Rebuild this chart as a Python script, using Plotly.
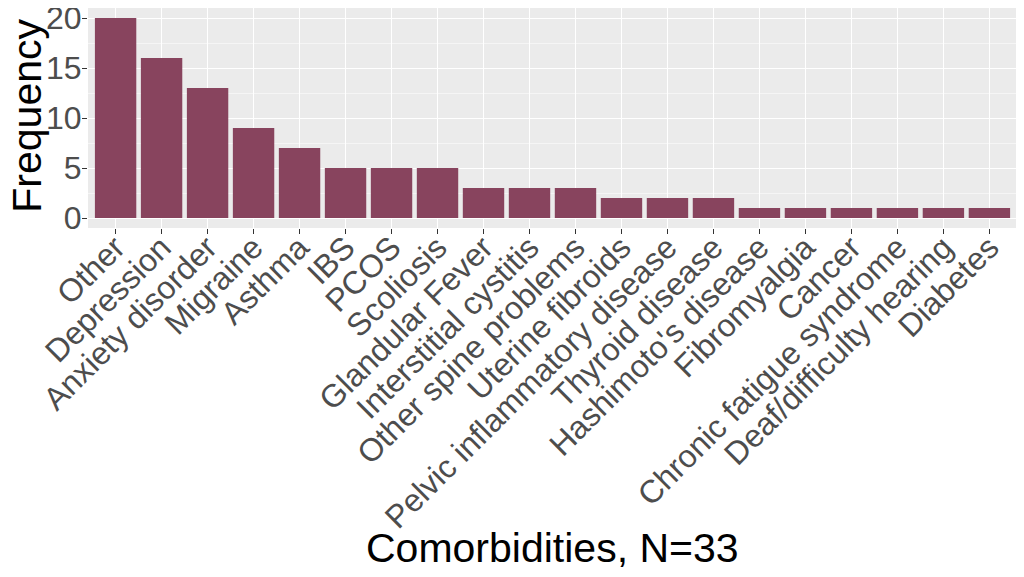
import plotly.graph_objects as go

# ── Data ───────────────────────────────────────────────
conditions = ["Other", "Depression", "Anxiety disorder", "Migraine", "Asthma",
              "IBS", "PCOS", "Scoliosis", "Glandular Fever", "Interstitial cystitis",
              "Other spine problems", "Uterine fibroids", "Pelvic inflammatory disease",
              "Thyroid disease", "Hashimoto's disease", "Fibromyalgia", "Cancer",
              "Chronic fatigue syndrome", "Deaf/difficulty hearing", "Diabetes"]
frequency = [20, 16, 13, 9, 7, 5, 5, 5, 3, 3, 3, 2, 2, 2, 1, 1, 1, 1, 1, 1]

bar_color = "#88445E"

fig = go.Figure(go.Bar(x=conditions, y=frequency, marker_color=bar_color,
                       marker_line_width=0, width=0.9))

# page body adds ~8px offset, so margins are shifted to compensate
fig.update_layout(
    width=1024, height=577,
    margin=dict(l=80, r=15, t=0, b=357),
    paper_bgcolor="white", plot_bgcolor="#EBEBEB",
    font=dict(family="Liberation Sans, Arial, sans-serif", color="#4D4D4D"),
    showlegend=False,
)

fig.update_xaxes(
    range=[-0.6, 19.6], tickangle=-45, tickfont=dict(size=32, color="#4D4D4D"),
    showgrid=True, gridcolor="white", gridwidth=1.3,
    ticks="outside", ticklen=5, tickcolor="#333333", tickwidth=1.2,
    ticklabelstandoff=-18, ticklabeloverflow="allow",
    zeroline=False, automargin=False,
)
fig.update_yaxes(
    range=[-1, 21], tickvals=[0, 5, 10, 15, 20], tickfont=dict(size=32, color="#4D4D4D"),
    showgrid=True, gridcolor="white", gridwidth=1.3,
    minor=dict(tickvals=[2.5, 7.5, 12.5, 17.5], showgrid=True,
               gridcolor="#F5F5F5", gridwidth=0.7),
    ticks="outside", ticklen=5, tickcolor="#333333", tickwidth=1.2,
    ticklabelstandoff=-6, ticklabeloverflow="allow",
    zeroline=False, automargin=False,
)

# axis titles as annotations for exact placement
fig.add_annotation(text="Comorbidities, N=33", xref="paper", yref="paper",
                   x=0.5, y=-1.4545, xanchor="center", yanchor="middle",
                   showarrow=False, font=dict(size=41, color="black"))
fig.add_annotation(text="Frequency", xref="paper", yref="paper",
                   x=-0.066, y=0.509, xanchor="center", yanchor="middle",
                   textangle=-90, showarrow=False,
                   font=dict(size=41, color="black"))

fig.write_html("out.html")
